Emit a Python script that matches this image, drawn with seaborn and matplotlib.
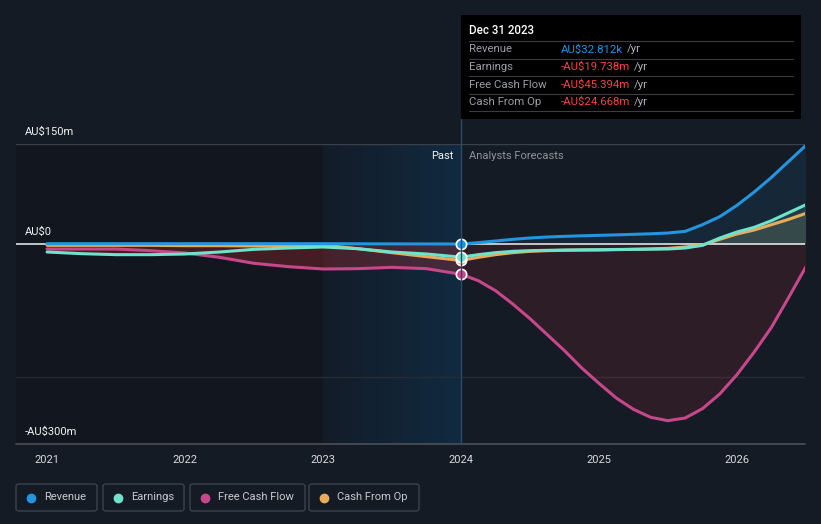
import numpy as np
import pandas as pd
import matplotlib
matplotlib.use("Agg")
import matplotlib.pyplot as plt
from matplotlib.colors import LinearSegmentedColormap
from matplotlib.patches import Rectangle, FancyBboxPatch
from matplotlib.lines import Line2D
import seaborn as sns

# ---------------- data (AU$ millions) ----------------
years = [2021.0, 2021.25, 2021.5, 2021.75, 2022.0, 2022.25, 2022.5, 2022.75,
         2023.0, 2023.25, 2023.5, 2023.75,
         2024.0, 2024.125, 2024.25, 2024.375, 2024.5, 2024.625, 2024.75, 2024.875,
         2025.0, 2025.125, 2025.25, 2025.375, 2025.5, 2025.625, 2025.75, 2025.875,
         2026.0, 2026.125, 2026.25, 2026.375, 2026.5]
revenue = [0.5, 0.5, 0.5, 0.5, 0.5, 0.5, 0.5, 0.5,
           0.5, 0.3, 0.2, 0.1,
           0.03, 2, 4.5, 7, 9, 10.5, 11.5, 12.3,
           13, 13.7, 14.5, 15.3, 16.5, 19, 29, 41,
           58, 78, 100, 124, 148]
earnings = [-12, -14.5, -16, -16, -15, -12, -8, -6,
            -4.5, -7, -12, -15,
            -19.738, -16, -13, -11, -10, -9.5, -9, -8.7,
            -8.5, -8.2, -8, -7.8, -7.5, -6, -2, 9,
            18, 25, 35, 47, 59]
free_cash_flow = [-7.5, -7.5, -7.5, -10, -13.5, -20, -29, -34,
                  -37.5, -37, -35, -37,
                  -45.394, -55, -70, -90, -112, -136, -160, -186,
                  -209, -231, -248, -260, -265, -261, -247, -225,
                  -196, -162, -125, -80, -34]
cash_from_op = [-2, -2, -2, -2, -2.5, -2.5, -3, -3,
                -1.5, -7, -13, -19,
                -24.668, -20, -16, -13, -11, -10, -9.5, -9.2,
                -9, -8.5, -8, -7.3, -6.5, -4.5, -1.5, 7,
                15, 21, 29, 37, 46]

series_names = ["Revenue", "Earnings", "Free Cash Flow", "Cash From Op"]
series_values = [revenue, earnings, free_cash_flow, cash_from_op]
colors = {"Revenue": "#2394df", "Earnings": "#6ee2cb",
          "Free Cash Flow": "#c7478b", "Cash From Op": "#e8ab5c"}

tick_years = [2021, 2022, 2023, 2024, 2025, 2026]
y_labels = {150: "AU$150m", 0: "AU$0", -300: "-AU$300m"}

tooltip_title = "Dec 31 2023"
tooltip_rows = [("Revenue", "AU$32.812k", "#2394df"),
                ("Earnings", "-AU$19.738m", "#f0444a"),
                ("Free Cash Flow", "-AU$45.394m", "#f0444a"),
                ("Cash From Op", "-AU$24.668m", "#f0444a")]

rows = []
for name, vals in zip(series_names, series_values):
    for yr, v in zip(years, vals):
        rows.append({"year": yr, "value": v, "series": name})
df = pd.DataFrame(rows)

# ---------------- figure ----------------
W, H = 821, 524
BG = "#151b25"
sns.set_theme(style="dark")
plt.rcParams["font.family"] = ["Roboto", "DejaVu Sans"]

fig = plt.figure(figsize=(W / 100, H / 100), dpi=100, facecolor=BG)
ax_l, ax_r, ax_t, ax_b = 16, 805, 144, 444
ax = fig.add_axes([ax_l / W, 1 - ax_b / H, (ax_r - ax_l) / W, (ax_b - ax_t) / H])
ax.set_facecolor(BG)
x0, x1 = 2020.775, 2026.493
ax.set_xlim(x0, x1)
ax.set_ylim(-300, 150)
for s in ax.spines.values():
    s.set_visible(False)

# background regions
ax.axvspan(x0, 2023.0, color="#12161e", zorder=0, lw=0)
cmap = LinearSegmentedColormap.from_list("past", ["#141c28", "#112a40"])
grad = np.linspace(0, 1, 256).reshape(1, -1)
ax.imshow(grad, extent=[2023.0, 2024.0, -300, 150], aspect="auto", cmap=cmap,
          zorder=0.5, interpolation="bilinear")

# grid lines
ax.axhline(150, color="#3a404b", lw=1, zorder=1)
ax.axhline(-200, color="#262c36", lw=1, zorder=1)
ax.axhline(-300, color="#4a505a", lw=1.2, zorder=1, clip_on=False)

# fills
yrs = np.array(years)
lowest = np.min(np.array(series_values), axis=0)
past = yrs <= 2024.0
fut = yrs >= 2024.0
neg_col = "#cd3136"
ax.fill_between(yrs, np.minimum(lowest, 0), 0, where=past, color=neg_col,
                alpha=0.27, lw=0, zorder=2)
ax.fill_between(yrs, np.minimum(lowest, 0), 0, where=fut, color=neg_col,
                alpha=0.13, lw=0, zorder=2)
pos_alpha = {"Revenue": 0.10, "Earnings": 0.12, "Cash From Op": 0.11}
for name in ["Revenue", "Earnings", "Cash From Op"]:
    vals = np.array(series_values[series_names.index(name)])
    ax.fill_between(yrs, np.maximum(vals, 0), 0, color=colors[name],
                    alpha=pos_alpha[name], lw=0, zorder=2)

ax.axhline(0, color="#f2f2f2", lw=1.1, zorder=3)

order = ["Free Cash Flow", "Cash From Op", "Earnings", "Revenue"]
sns.lineplot(data=df, x="year", y="value", hue="series", hue_order=order,
             palette=colors, legend=False, linewidth=2.2, ax=ax, zorder=4)
for line in ax.lines[-4:]:
    line.set_solid_capstyle("round")
    line.set_solid_joinstyle("round")

# markers at 2024
idx = years.index(2024.0)
for name in order:
    v = series_values[series_names.index(name)][idx]
    ax.scatter([2024.0], [v], s=55, color=colors[name], edgecolor="white",
               linewidth=1.2, zorder=6)

ax.set_xlabel("")
ax.set_ylabel("")
ax.set_xticks(tick_years)
ax.set_xticklabels([str(t) for t in tick_years], color="#d6dae0", fontsize=8)
ax.tick_params(axis="x", length=4, color="#4a505a", pad=4, width=1)
ax.set_yticks([])
ax.grid(False)

# y labels
for val, lab in y_labels.items():
    ypx = ax_t + (150 - val) / 450 * (ax_b - ax_t) - 12
    fig.text(25 / W, 1 - ypx / H, lab, color="#f0f2f5", fontsize=8,
             ha="left", va="center")

# past / forecast labels
fig.text(453 / W, 1 - 156 / H, "Past", color="#f0f2f5", fontsize=8, ha="right", va="center")
fig.text(469 / W, 1 - 156 / H, "Analysts Forecasts", color="#8e939b", fontsize=8,
         ha="left", va="center")

# vertical divider at 2024
fig.add_artist(Line2D([461 / W, 461 / W], [1 - 119 / H, 1 - ax_b / H],
                      color="#2b4a66", lw=1, zorder=5))

# tooltip
fig.add_artist(Rectangle((461 / W, 1 - 119 / H), 340 / W, 104 / H,
                         facecolor="#000000", edgecolor="none", zorder=10))
fig.text(469 / W, 1 - 31 / H, tooltip_title, color="white", fontsize=8.3,
         ha="left", va="center", zorder=11, fontweight="medium")
for ysep in [41, 58.7, 76.3, 93.7, 111.3]:
    fig.add_artist(Line2D([469 / W, 793 / W], [1 - ysep / H, 1 - ysep / H],
                          color="#3a3d42", lw=0.8, zorder=11))
for i, (lab, val, col) in enumerate(tooltip_rows):
    yc = 49.5 + i * 17.5
    fig.text(469 / W, 1 - yc / H, lab, color="#9a9ea5", fontsize=8.2,
             ha="left", va="center", zorder=12)
    t = fig.text(561 / W, 1 - yc / H, val, color=col, fontsize=8.2,
                 ha="left", va="center", zorder=12)
    fig.canvas.draw()
    bb = t.get_window_extent()
    fig.text((bb.x1 + 4) / W, 1 - yc / H, "/yr", color="#b0b4ba", fontsize=8.2,
             ha="left", va="center", zorder=12)

# legend boxes
legend_boxes = [(16, 97), (103, 184), (190, 305), (309, 419)]
for (lx0, lx1), name in zip(legend_boxes, series_names):
    fig.add_artist(FancyBboxPatch((lx0 / W, 1 - 511 / H), (lx1 - lx0) / W, 27 / H,
                                  boxstyle="round,pad=0,rounding_size=0.004",
                                  facecolor=BG, edgecolor="#3c424c", lw=1, zorder=10))
    fig.add_artist(Line2D([(lx0 + 15) / W], [1 - 497.5 / H], marker="o", markersize=6,
                          color=colors[name], lw=0, zorder=11))
    fig.text((lx0 + 28) / W, 1 - 497.5 / H, name, color="#c6cad0", fontsize=8,
             ha="left", va="center", zorder=11)

fig.savefig("out.png", dpi=100, facecolor=BG)
